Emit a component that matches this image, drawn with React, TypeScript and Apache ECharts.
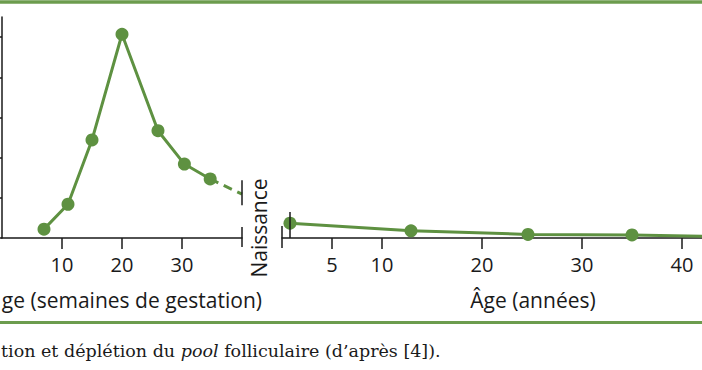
import React, { useEffect, useRef } from "react";
import * as echarts from "echarts";

// Fetal period: gestational weeks vs follicle count (millions)
const fetalWeeks = [7, 11, 15, 20, 26, 30.4, 34.7];
const fetalFollicles = [0.22, 0.84, 2.44, 5.07, 2.67, 1.84, 1.47];
// Dashed extrapolation to birth
const birthWeeks = [34.7, 40];
const birthFollicles = [1.47, 1.09];
// Postnatal period: age in years vs follicle count (millions)
const postnatalAges = [0.8, 12.9, 24.6, 35, 50];
const postnatalFollicles = [0.37, 0.18, 0.09, 0.075, 0.01];

const fetalTicks = [10, 20, 30];
const postnatalTicks = [5, 10, 20, 30, 40];
const yTicks = [0, 1, 2, 3, 4, 5];

const GREEN = "#5e9141";
const BORDER_GREEN = "#6c9c4e";
const INK = "#1a1a1a";
const SANS = "'Open Sans', 'Noto Sans', sans-serif";
const SERIF = "'DejaVu Serif', 'Liberation Serif', serif";

export default function App() {
  const ref = useRef<HTMLDivElement>(null);

  useEffect(() => {
    document.body.style.margin = "0";
    if (!ref.current) return;
    const chart = echarts.init(ref.current, undefined, { renderer: "svg" });

    const axisLineStyle = { color: INK, width: 1.5 };
    const labelStyle = { fontSize: 20, color: INK, fontFamily: SANS };

    chart.setOption({
      animation: false,
      backgroundColor: "#ffffff",
      grid: [
        { left: 2, top: 17, width: 240, height: 221 },
        { left: 282, top: 17, width: 420, height: 221 },
      ],
      xAxis: [
        {
          type: "value",
          gridIndex: 0,
          min: 0,
          max: 40,
          axisLine: { lineStyle: axisLineStyle },
          axisTick: { customValues: fetalTicks, length: 11, lineStyle: axisLineStyle },
          axisLabel: { customValues: fetalTicks, margin: 16, ...labelStyle },
          splitLine: { show: false },
        },
        {
          type: "value",
          gridIndex: 1,
          min: 0,
          max: 42,
          axisLine: { lineStyle: axisLineStyle },
          axisTick: { customValues: postnatalTicks, length: 11, lineStyle: axisLineStyle },
          axisLabel: { customValues: postnatalTicks, margin: 16, ...labelStyle },
          splitLine: { show: false },
        },
      ],
      yAxis: [
        {
          type: "value",
          gridIndex: 0,
          min: 0,
          max: 5.5,
          axisLine: { show: true, lineStyle: axisLineStyle },
          axisTick: { show: true, customValues: yTicks, length: 5, lineStyle: axisLineStyle },
          axisLabel: { show: false },
          splitLine: { show: false },
        },
        {
          type: "value",
          gridIndex: 1,
          min: 0,
          max: 5.5,
          show: false,
          splitLine: { show: false },
        },
      ],
      series: [
        {
          type: "line",
          xAxisIndex: 0,
          yAxisIndex: 0,
          data: fetalWeeks.map((w, i) => [w, fetalFollicles[i]]),
          symbol: "circle",
          symbolSize: 13,
          itemStyle: { color: GREEN },
          lineStyle: { color: GREEN, width: 3 },
          z: 3,
        },
        {
          type: "line",
          xAxisIndex: 0,
          yAxisIndex: 0,
          data: birthWeeks.map((w, i) => [w, birthFollicles[i]]),
          symbol: "none",
          lineStyle: { color: GREEN, width: 3, type: [9, 6] },
          z: 2,
        },
        {
          type: "line",
          xAxisIndex: 1,
          yAxisIndex: 1,
          data: postnatalAges.map((a, i) => [a, postnatalFollicles[i]]),
          symbol: "circle",
          symbolSize: 13,
          clip: true,
          itemStyle: { color: GREEN },
          lineStyle: { color: GREEN, width: 3 },
          z: 3,
        },
      ],
    });

    const leftEnd = chart.convertToPixel({ gridIndex: 0 }, [40, 0]) as number[];
    const birthPt = chart.convertToPixel({ gridIndex: 0 }, [birthWeeks[1], birthFollicles[1]]) as number[];
    const rightStart = chart.convertToPixel({ gridIndex: 1 }, [0, 0]) as number[];
    const firstPost = chart.convertToPixel({ gridIndex: 1 }, [postnatalAges[0], 0]) as number[];

    const tick = (x: number, y1: number, y2: number) => ({
      type: "line",
      shape: { x1: x, y1, x2: x, y2 },
      style: { stroke: INK, lineWidth: 1.5 },
      z: 10,
    });

    chart.setOption({
      graphic: [
        {
          type: "line",
          shape: { x1: 0, y1: 2, x2: 702, y2: 2 },
          style: { stroke: BORDER_GREEN, lineWidth: 3.5 },
        },
        {
          type: "line",
          shape: { x1: 0, y1: 322.5, x2: 702, y2: 322.5 },
          style: { stroke: BORDER_GREEN, lineWidth: 3 },
        },
        tick(leftEnd[0], leftEnd[1] - 11, leftEnd[1] + 9),
        tick(leftEnd[0], birthPt[1] - 14, birthPt[1] + 11),
        tick(rightStart[0], rightStart[1] - 12, rightStart[1] + 10),
        tick(firstPost[0], firstPost[1] - 26, firstPost[1]),
        {
          type: "text",
          x: 259,
          y: 228,
          rotation: Math.PI / 2,
          style: {
            text: "Naissance",
            fontSize: 21,
            fontFamily: SANS,
            fill: INK,
            align: "center",
            verticalAlign: "middle",
          },
        },
        {
          type: "text",
          x: 262,
          y: 300,
          style: {
            text: "ge (semaines de gestation)",
            fontSize: 21,
            fontFamily: SANS,
            fill: INK,
            align: "right",
            verticalAlign: "middle",
          },
        },
        {
          type: "text",
          x: 533,
          y: 300,
          style: {
            text: "Âge (années)",
            fontSize: 21,
            fontFamily: SANS,
            fill: INK,
            align: "center",
            verticalAlign: "middle",
          },
        },
        {
          type: "text",
          x: 1,
          y: 351,
          style: {
            text: "tion et déplétion du {i|pool} folliculaire (d’après [4]).",
            fontSize: 17.5,
            fontFamily: SERIF,
            fill: INK,
            align: "left",
            verticalAlign: "middle",
            rich: {
              i: { fontStyle: "italic", fontSize: 17.5, fontFamily: SERIF, fill: INK },
            },
          },
        },
      ],
    });

    return () => chart.dispose();
  }, []);

  return <div ref={ref} style={{ width: 702, height: 370, position: "absolute", left: 0, top: 0 }} />;
}
